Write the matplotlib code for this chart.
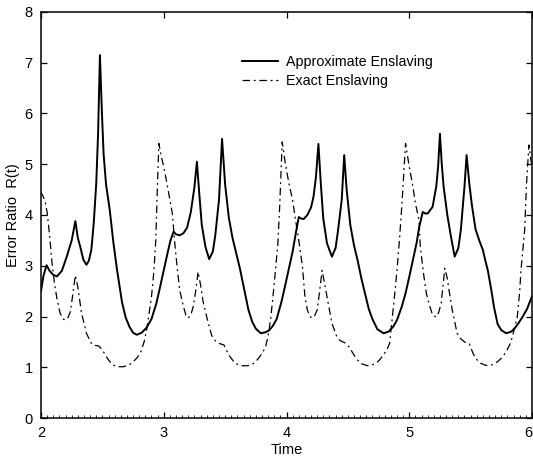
import matplotlib
matplotlib.use("Agg")
import matplotlib.pyplot as plt
from matplotlib.ticker import MultipleLocator
from matplotlib.transforms import ScaledTranslation

plt.rcParams['font.family'] = ['Liberation Sans', 'DejaVu Sans']

# Approximate Enslaving (solid)
approx_t = [2.00, 2.02, 2.045, 2.07, 2.10, 2.13, 2.17, 2.21, 2.25, 2.28, 2.30, 2.32, 2.345, 2.37, 2.39,
            2.41, 2.43, 2.45, 2.465, 2.48, 2.495, 2.51, 2.53, 2.56, 2.59, 2.62, 2.66, 2.69, 2.72, 2.75,
            2.78, 2.82, 2.86, 2.90, 2.94, 2.97, 3.00, 3.03, 3.055, 3.08, 3.10, 3.13, 3.16, 3.19, 3.22,
            3.25, 3.27, 3.29, 3.31, 3.34, 3.37, 3.40, 3.42, 3.45, 3.475, 3.50, 3.53, 3.56, 3.59, 3.62,
            3.65, 3.69, 3.72, 3.75, 3.79, 3.83, 3.86, 3.89, 3.92, 3.96, 3.99, 4.02, 4.05, 4.08, 4.10,
            4.12, 4.14, 4.17, 4.20, 4.22, 4.24, 4.26, 4.28, 4.30, 4.33, 4.37, 4.40, 4.42, 4.45, 4.47,
            4.49, 4.52, 4.55, 4.58, 4.61, 4.64, 4.67, 4.70, 4.74, 4.79, 4.83, 4.87, 4.90, 4.94, 4.97,
            5.00, 5.03, 5.06, 5.08, 5.11, 5.13, 5.15, 5.19, 5.22, 5.235, 5.25, 5.265, 5.28, 5.31, 5.34,
            5.37, 5.40, 5.42, 5.45, 5.467, 5.49, 5.51, 5.54, 5.57, 5.60, 5.62, 5.64, 5.67, 5.69, 5.72,
            5.75, 5.79, 5.83, 5.86, 5.89, 5.92, 5.96, 6.00]
approx_r = [2.50, 2.80, 3.01, 2.90, 2.82, 2.79, 2.90, 3.18, 3.50, 3.88, 3.55, 3.37, 3.12, 3.02, 3.10,
            3.31, 3.85, 4.62, 5.60, 7.15, 6.10, 5.20, 4.60, 4.10, 3.45, 2.91, 2.28, 1.98, 1.80, 1.68,
            1.64, 1.68, 1.78, 1.95, 2.26, 2.58, 2.91, 3.24, 3.50, 3.67, 3.62, 3.60, 3.64, 3.75, 4.05,
            4.55, 5.05, 4.40, 3.80, 3.37, 3.13, 3.28, 3.60, 4.30, 5.50, 4.60, 3.95, 3.55, 3.25, 2.95,
            2.60, 2.13, 1.90, 1.76, 1.67, 1.69, 1.73, 1.82, 1.95, 2.30, 2.62, 2.95, 3.28, 3.70, 3.96,
            3.93, 3.92, 4.00, 4.15, 4.36, 4.75, 5.40, 4.60, 3.92, 3.44, 3.18, 3.35, 3.70, 4.30, 5.18,
            4.50, 3.80, 3.40, 3.10, 2.75, 2.45, 2.15, 1.95, 1.75, 1.67, 1.70, 1.80, 1.93, 2.20, 2.46,
            2.78, 3.11, 3.45, 3.75, 4.06, 4.03, 4.03, 4.16, 4.56, 4.95, 5.60, 5.00, 4.56, 4.00, 3.57,
            3.18, 3.35, 3.70, 4.56, 5.18, 4.60, 4.20, 3.72, 3.50, 3.31, 3.10, 2.91, 2.50, 2.19, 1.85,
            1.73, 1.67, 1.70, 1.77, 1.87, 1.98, 2.15, 2.40]

# Exact Enslaving (dashed)
exact_t = [2.00, 2.02, 2.035, 2.05, 2.07, 2.09, 2.11, 2.13, 2.155, 2.18, 2.20, 2.22, 2.24, 2.26, 2.28,
           2.30, 2.33, 2.37, 2.41, 2.44, 2.47, 2.50, 2.54, 2.58, 2.62, 2.67, 2.71, 2.74, 2.78, 2.81,
           2.84, 2.86, 2.88, 2.90, 2.92, 2.935, 2.945, 2.96, 2.98, 3.00, 3.02, 3.04, 3.07, 3.09, 3.11,
           3.13, 3.16, 3.18, 3.20, 3.22, 3.24, 3.26, 3.28, 3.30, 3.32, 3.35, 3.39, 3.42, 3.45, 3.49,
           3.53, 3.58, 3.63, 3.68, 3.71, 3.74, 3.77, 3.80, 3.83, 3.85, 3.87, 3.89, 3.91, 3.93, 3.945,
           3.965, 3.99, 4.02, 4.05, 4.07, 4.10, 4.13, 4.15, 4.17, 4.19, 4.21, 4.23, 4.25, 4.27, 4.29,
           4.31, 4.33, 4.37, 4.41, 4.44, 4.47, 4.51, 4.55, 4.58, 4.61, 4.66, 4.70, 4.73, 4.76, 4.79,
           4.82, 4.84, 4.86, 4.88, 4.90, 4.92, 4.94, 4.97, 5.00, 5.03, 5.05, 5.08, 5.09, 5.12, 5.14,
           5.16, 5.19, 5.22, 5.24, 5.26, 5.275, 5.29, 5.31, 5.32, 5.35, 5.39, 5.42, 5.45, 5.49, 5.52,
           5.55, 5.58, 5.62, 5.65, 5.69, 5.72, 5.76, 5.79, 5.82, 5.84, 5.86, 5.88, 5.90, 5.91, 5.925,
           5.94, 5.955, 5.975, 5.99, 6.00]
exact_r = [4.45, 4.35, 4.25, 4.05, 3.60, 3.05, 2.65, 2.35, 2.07, 1.95, 1.93, 1.98, 2.10, 2.45, 2.81,
           2.58, 2.07, 1.67, 1.47, 1.43, 1.42, 1.34, 1.18, 1.05, 1.01, 1.01, 1.04, 1.08, 1.18, 1.28,
           1.50, 1.73, 2.05, 2.39, 2.90, 3.50, 4.30, 5.41, 5.15, 4.95, 4.70, 4.43, 4.03, 3.44, 2.95,
           2.52, 2.20, 2.03, 1.97, 2.03, 2.19, 2.50, 2.88, 2.62, 2.30, 1.99, 1.63, 1.52, 1.47, 1.44,
           1.24, 1.08, 1.03, 1.03, 1.04, 1.09, 1.17, 1.27, 1.40, 1.62, 1.93, 2.40, 2.91, 3.45, 4.20,
           5.44, 5.02, 4.62, 4.29, 3.96, 3.50, 2.98, 2.40, 2.13, 2.00, 1.97, 2.02, 2.13, 2.50, 2.91,
           2.65, 2.39, 1.87, 1.60, 1.52, 1.49, 1.40, 1.24, 1.14, 1.07, 1.03, 1.05, 1.08, 1.15, 1.24,
           1.36, 1.47, 1.93, 2.40, 2.91, 3.50, 4.20, 5.41, 4.95, 4.56, 4.23, 3.90, 3.37, 2.78, 2.45,
           2.26, 2.03, 1.99, 2.08, 2.26, 2.60, 2.95, 2.75, 2.58, 2.13, 1.67, 1.56, 1.50, 1.46, 1.27,
           1.15, 1.08, 1.04, 1.03, 1.06, 1.11, 1.20, 1.31, 1.45, 1.60, 1.80, 1.99, 2.50, 2.91, 3.30,
           3.70, 4.60, 5.38, 5.10, 4.95]

series_labels = ["Approximate Enslaving", "Exact Enslaving"]
x_ticks = [2, 3, 4, 5, 6]
y_ticks = [0, 1, 2, 3, 4, 5, 6, 7, 8]

fig = plt.figure(figsize=(5.33, 4.57), dpi=100)
ax = fig.add_axes([41 / 533, 1 - 418 / 457, 491 / 533, 406 / 457])

ax.plot(approx_t, approx_r, color='black', lw=1.4, label=series_labels[0])
ax.plot(exact_t, exact_r, color='black', lw=0.9, linestyle=(0, (6, 3, 1.5, 3)),
        label=series_labels[1])

ax.set_xlim(2, 6)
ax.set_ylim(0, 8)
ax.set_xticks(x_ticks)
ax.set_yticks(y_ticks)
ax.xaxis.set_minor_locator(MultipleLocator(0.05))
ax.tick_params(which='major', direction='in', length=4, width=0.9, top=True, right=True,
               labelsize=10.5, pad=6)
ax.tick_params(which='minor', direction='in', length=2, width=0.6, top=False)
for s in ax.spines.values():
    s.set_linewidth(1.1)

# keep the last x tick label inside the figure
fig.canvas.draw()
last = ax.get_xticklabels()[-1]
last.set_transform(last.get_transform() + ScaledTranslation(-4 / 100, 0, fig.dpi_scale_trans))

ax.set_xlabel("Time", fontsize=10.5, labelpad=2)
ax.set_ylabel("Error Ratio  R(t)", fontsize=10.5, labelpad=3)

ax.legend(loc='upper left', bbox_to_anchor=(0.409, 0.893), frameon=False, fontsize=10.3,
          handlelength=2.5, handletextpad=0.6, labelspacing=0.3, borderpad=0,
          borderaxespad=0)

fig.savefig("out.png", dpi=100)
